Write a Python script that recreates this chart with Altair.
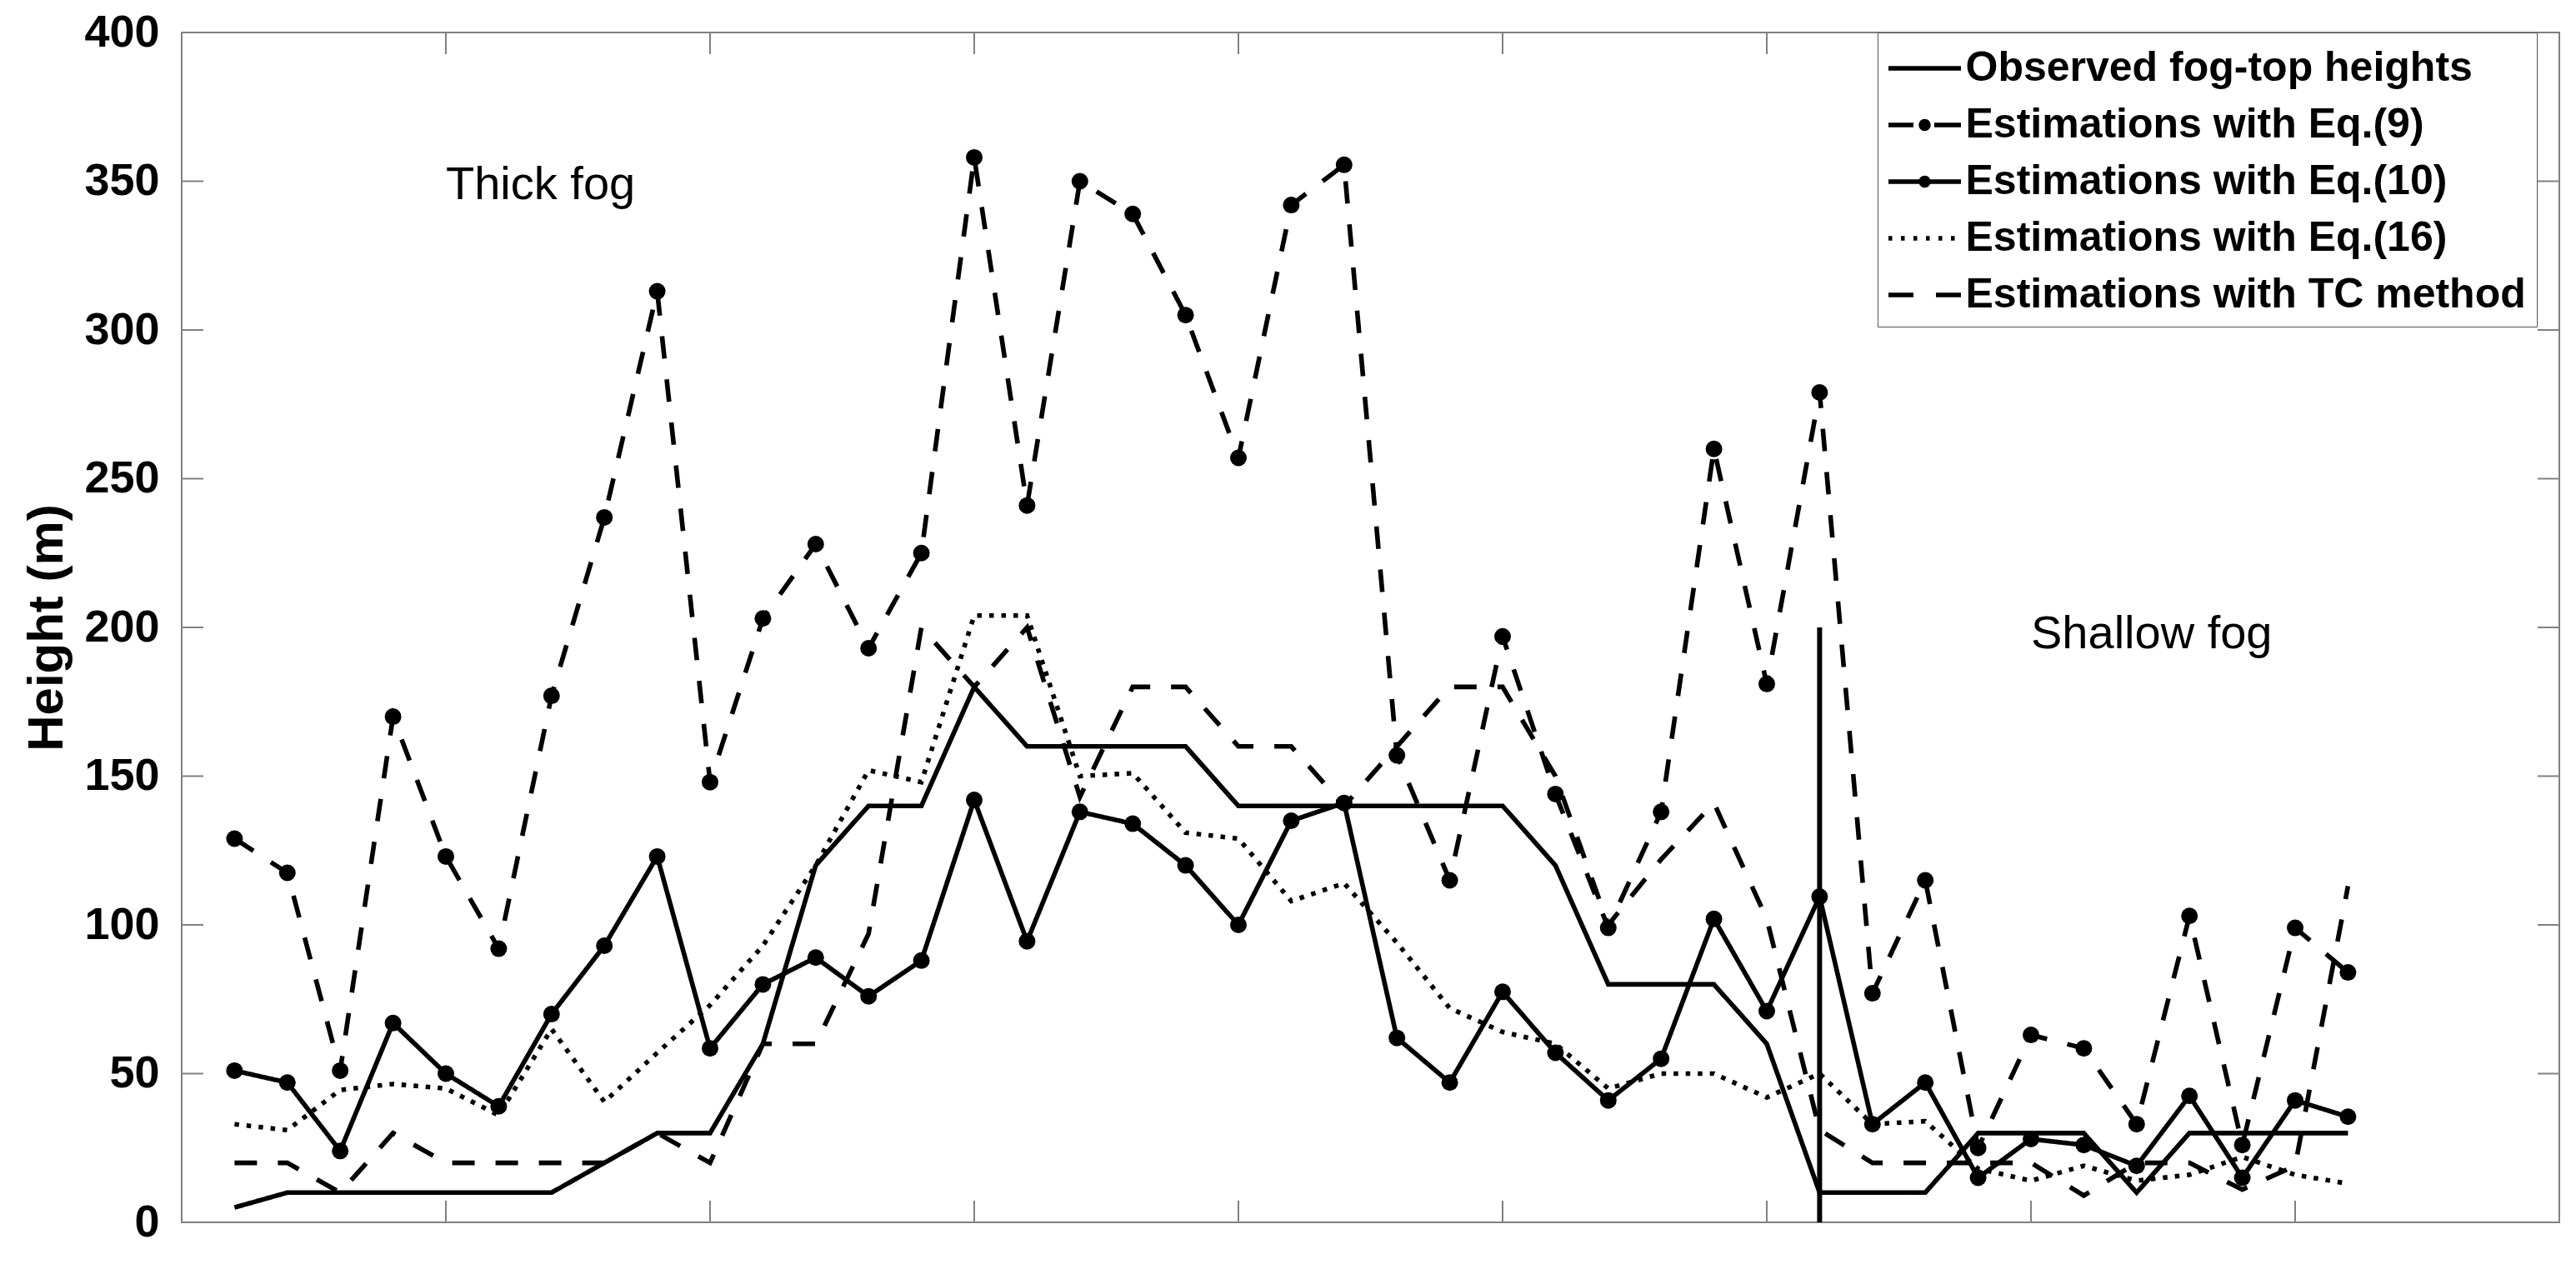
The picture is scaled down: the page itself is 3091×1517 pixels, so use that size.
import altair as alt
import pandas as pd

# ---------------- data ----------------
idx = list(range(1, 42))
observed = [5, 10, 10, 10, 10, 10, 10, 20, 30, 30,
            60, 120, 140, 140, 180, 160, 160, 160, 160, 140,
            140, 140, 140, 140, 140, 120, 80, 80, 80, 60,
            10, 10, 10, 30, 30, 30, 10, 30, 30, 30, 30]
eq9 = [129, 117.5, 51, 170, 123, 92, 177, 237, 313, 148,
       203, 228, 193, 225, 358, 241, 350, 339, 305, 257,
       342, 355.5, 157, 115, 197, 144, 99, 138, 260, 181,
       279, 77, 115, 25, 63, 58.5, 33, 103, 26, 99, 84]
eq10 = [51, 47, 24, 67, 50, 39, 70, 93, 123, 58.5,
        80, 89, 76, 88, 142, 94.5, 138, 134, 120, 100,
        135, 141, 62, 47, 77.5, 57, 41, 55, 102, 71,
        109.5, 33, 47, 15, 28, 26, 19, 42.5, 15, 41, 35.5]
eq16 = [33, 31, 44.5, 46.5, 45, 36, 65, 40.5, 57, 73,
        93, 120, 152, 148, 204, 204, 150, 151, 131, 129,
        108, 114, 94, 72, 64, 60, 45, 50, 50, 42,
        50, 33, 34, 18, 14, 19, 14, 16, 22, 16, 13]
tc = [20, 20, 10, 30, 20, 20, 20, 20, 30, 20,
      60, 60, 97, 200, 180, 200, 143, 180, 180, 160,
      160, 140, 160, 180, 180, 150, 100, 122, 141, 102,
      31, 20, 20, 20, 20, 9, 20, 20, 11, 19, 113]

series_names = ["Observed fog-top heights",
                "Estimations with Eq.(9)",
                "Estimations with Eq.(10)",
                "Estimations with Eq.(16)",
                "Estimations with TC method"]
marker_series = ["Estimations with Eq.(9)", "Estimations with Eq.(10)"]

ytick_values = [0, 50, 100, 150, 200, 250, 300, 350, 400]
xtick_values = [5, 10, 15, 20, 25, 30, 35, 40]

vline_x = [31]
vline_y0 = [0]
vline_y1 = [200]

ann_x = [5, 35]
ann_y = [344, 193]
ann_text = ["Thick fog", "Shallow fog"]

# ---------------- styles ----------------
FONT = "Liberation Sans"
W, H = 2853, 1428
TL = 26  # inward tick length
GREY = "#808080"
LW = 5.6

dash_styles = [[1, 0], [27, 25], [1, 0], [5.5, 9], [27, 25]]

# legend glyphs (filled shapes, unit = sqrt(symbolSize)/2 = 30 px)
SYM = 60
HW = 1.45          # half width of glyph in units (87 px)
HT = 0.09          # half thickness of a line stroke in units


def bar(x0, x1):
    return f"M{x0},{-HT}H{x1}V{HT}H{x0}Z"


def disc(r=0.24):
    return f"M{-r},0A{r},{r},0,1,1,{r},0A{r},{r},0,1,1,{-r},0Z"


legend_paths = [
    bar(-HW, HW),
    bar(-HW, -0.45) + bar(0.38, HW) + disc(),
    bar(-HW, HW) + disc(),
    "".join(bar(x, round(x + 0.15, 3)) for x in [-1.45, -0.95, -0.45, 0.05, 0.55, 1.05]),
    bar(-HW, -0.45) + bar(0.45, HW),
]

rows = []
for name, vals in zip(series_names, [observed, eq9, eq10, eq16, tc]):
    for i, v in zip(idx, vals):
        rows.append({"i": i, "v": v, "series": name})
df = pd.DataFrame(rows)

xs = alt.Scale(domain=[0, 45], nice=False, zero=False)
ys = alt.Scale(domain=[0, 400], nice=False, zero=False)

yaxis = alt.Axis(
    title="Height (m)", values=ytick_values, ticks=False,
    domain=False, grid=False, labelFont=FONT, labelFontSize=54,
    labelFontWeight="bold", labelColor="black", labelPadding=27,
    labelOverlap=False,
    titleFont=FONT, titleFontSize=60, titleFontWeight="bold",
    titleColor="black", titleX=-162, titleY=H / 2, titleAngle=270,
    titleAlign="center", titleBaseline="middle",
)


def Y(field):
    return alt.Y(field, scale=ys, axis=yaxis)


def X(field):
    return alt.X(field, scale=xs, axis=None)


line_layers = []
for name, dash in zip(series_names, dash_styles):
    line_layers.append(
        alt.Chart(df).transform_filter(alt.datum.series == name).mark_line(
            strokeWidth=LW, color="black", strokeCap="butt", strokeDash=dash
        ).encode(x=X("i:Q"), y=Y("v:Q"))
    )

markers = alt.Chart(df).transform_filter(
    alt.FieldOneOfPredicate(field="series", oneOf=marker_series)
).mark_point(filled=True, size=400, color="black", opacity=1).encode(
    x=X("i:Q"), y=Y("v:Q"),
)

vdf = pd.DataFrame({"x": vline_x, "y0": vline_y0, "y1": vline_y1})
vline = alt.Chart(vdf).mark_rule(strokeWidth=6, color="black").encode(
    x=X("x:Q"), y=Y("y0:Q"), y2="y1:Q",
)

ann_df = pd.DataFrame({"x": ann_x, "y": ann_y, "t": ann_text})
ann = alt.Chart(ann_df).mark_text(font=FONT, fontSize=56, align="left",
                                  baseline="alphabetic", color="black").encode(
    x=X("x:Q"), y=Y("y:Q"), text="t:N",
)

yt = pd.DataFrame({"y": ytick_values})
xt = pd.DataFrame({"x": xtick_values})
tick_style = dict(color=GREY, strokeWidth=2)
ticks_left = alt.Chart(yt).mark_rule(**tick_style).encode(
    y=Y("y:Q"), x=alt.value(0), x2=alt.value(TL))
ticks_right = alt.Chart(yt).mark_rule(**tick_style).encode(
    y=Y("y:Q"), x=alt.value(W - TL), x2=alt.value(W))
ticks_bottom = alt.Chart(xt).mark_rule(**tick_style).encode(
    x=X("x:Q"), y=alt.value(H - TL), y2=alt.value(H))
ticks_top = alt.Chart(xt).mark_rule(**tick_style).encode(
    x=X("x:Q"), y=alt.value(0), y2=alt.value(TL))

legend_layer = alt.Chart(df).transform_filter("datum.i < 0").mark_point(
    filled=True, color="black", opacity=1
).encode(
    x=X("i:Q"), y=Y("v:Q"),
    shape=alt.Shape("series:N",
                    scale=alt.Scale(domain=series_names, range=legend_paths),
                    legend=alt.Legend(
                        title=None, orient="none", legendX=W - 818, legendY=0,
                        fillColor="white", strokeColor="#555555", padding=13,
                        rowPadding=13, symbolSize=SYM * SYM, symbolStrokeWidth=0,
                        symbolFillColor="black", symbolOpacity=1,
                        symbolOffset=13.5, labelOffset=19,
                        labelFont=FONT, labelFontSize=50,
                        labelFontWeight="bold", labelColor="black",
                        labelLimit=2000, direction="vertical",
                    )),
)

chart = alt.layer(
    ticks_left, ticks_right, ticks_bottom, ticks_top,
    *line_layers, markers, vline, ann, legend_layer,
).properties(
    width=W, height=H,
    padding={"left": 210, "top": 31, "right": 12, "bottom": 30},
    autosize=alt.AutoSizeParams(type="none"),
    background="white",
).configure_view(stroke=GREY, strokeWidth=2)

chart.save("out.html", embed_options={"renderer": "svg", "actions": False})
